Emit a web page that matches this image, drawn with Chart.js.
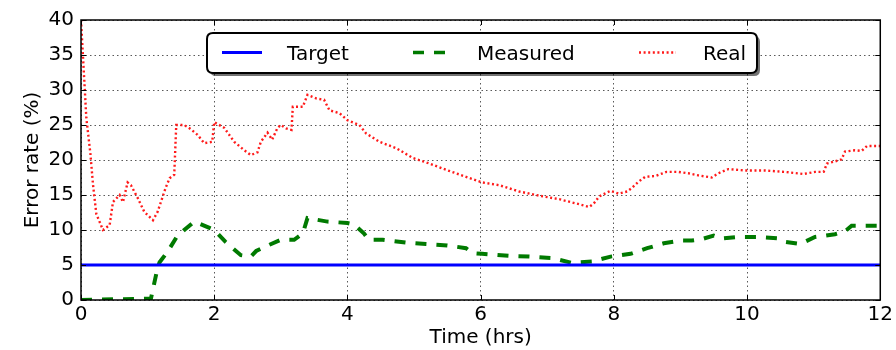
<!DOCTYPE html>
<html>
<head>
<meta charset="utf-8">
<script src="https://cdn.jsdelivr.net/npm/chart.js@4/dist/chart.umd.min.js"></script>
<style>
  html, body { margin: 0; padding: 0; background: #fff; }
  #wrap { width: 896px; height: 350px; }
</style>
</head>
<body>
<div id="wrap"><canvas id="c" width="896" height="350"></canvas></div>
<script>
// Error-rate traces over a 12 hour run
const seriesNames = ['Target', 'Measured', 'Real'];

const targetHours = [0, 12];
const targetRate  = [5, 5];

const measuredHours = [0, 1.05, 1.1, 1.15, 1.18, 1.30, 1.43, 1.55, 1.70, 1.83, 2.0, 2.17, 2.40, 2.55, 2.63, 2.83, 3.0,
  3.2, 3.33, 3.40, 3.70, 4.0, 4.1, 4.25, 4.32, 4.53, 4.88, 5.18, 5.5, 5.78, 5.88, 6.02, 6.43, 6.73, 7.07,
  7.37, 7.67, 7.95, 8.25, 8.5, 8.75, 9.02, 9.17, 9.32, 9.5, 9.62, 9.85, 10.17, 10.47, 10.57, 10.8, 11.02,
  11.32, 11.47, 11.57, 11.85, 12];
const measuredRate = [0, 0.2, 2.4, 4.6, 5.4, 6.9, 8.9, 10, 11.2, 10.7, 10, 8.3, 6.4, 6.2, 7.0, 7.9, 8.6,
  8.6, 9.5, 11.7, 11.2, 11, 10.8, 9.5, 8.6, 8.6, 8.2, 8.0, 7.8, 7.4, 6.7, 6.6, 6.3, 6.2, 6.0,
  5.3, 5.5, 6.2, 6.6, 7.4, 8.1, 8.5, 8.5, 8.7, 9.2, 8.8, 9.0, 9.0, 8.8, 8.3, 8.0, 9.0,
  9.4, 9.8, 10.6, 10.6, 10.6];

const realHours = [0, 0.04, 0.08, 0.14, 0.18, 0.23, 0.33, 0.43, 0.48, 0.58, 0.63, 0.70, 0.75, 0.85, 0.95, 1.08,
  1.15, 1.27, 1.33, 1.40, 1.43, 1.55, 1.62, 1.75, 1.85, 1.97, 2.0, 2.15, 2.30, 2.45, 2.55, 2.65, 2.70, 2.80,
  2.87, 2.95, 3.0, 3.08, 3.16, 3.18, 3.33, 3.40, 3.53, 3.65, 3.73, 3.88, 4.0, 4.18, 4.28, 4.48, 4.73, 4.98,
  5.23, 5.48, 5.78, 6.02, 6.28, 6.58, 6.88, 7.18, 7.43, 7.63, 7.70, 7.78, 7.95, 8.07, 8.20, 8.27, 8.37, 8.47,
  8.62, 8.79, 8.97, 9.12, 9.27, 9.47, 9.57, 9.72, 9.97, 10.27, 10.57, 10.85, 11.02, 11.15, 11.2, 11.32,
  11.42, 11.47, 11.62, 11.72, 11.80, 11.90, 12];
const realRate = [40, 33, 26, 21, 16.5, 12.3, 10, 10.7, 14, 15, 14, 16.8, 16.4, 14.6, 12.6, 11.4,
  12.6, 16, 17.4, 17.9, 25, 25, 24.6, 23.6, 22.4, 22.6, 25.4, 24.6, 22.6, 21.4, 20.7, 21.1, 22.6, 23.9,
  22.9, 24.6, 25, 24.5, 24.3, 27.6, 27.6, 29.3, 28.8, 28.6, 27.1, 26.7, 25.7, 25, 23.8, 22.6, 21.7, 20.3,
  19.5, 18.6, 17.6, 16.8, 16.4, 15.5, 14.9, 14.4, 13.8, 13.3, 13.8, 14.8, 15.6, 15.2, 15.5, 16, 16.9, 17.6,
  17.7, 18.3, 18.3, 18.1, 17.8, 17.5, 18.1, 18.7, 18.5, 18.5, 18.3, 18.0, 18.3, 18.3, 19.5, 19.8,
  20.1, 21.2, 21.4, 21.3, 22, 22, 22];

const xTicks = [0, 2, 4, 6, 8, 10, 12];
const yTicks = [0, 5, 10, 15, 20, 25, 30, 35, 40];

const toPoints = (xs, ys) => xs.map((x, i) => ({ x: x, y: ys[i] }));

const FONT = '"DejaVu Sans", Verdana, sans-serif';
const BLUE = '#0000ff', GREEN = '#007a00', RED = '#ff1a1a';

// Plot frame with inward tick marks
const framePlugin = {
  id: 'frame',
  afterDatasetsDraw(chart) {
    const { ctx, chartArea: a, scales } = chart;
    ctx.save();
    ctx.strokeStyle = '#000';
    ctx.lineWidth = 1.5;
    ctx.setLineDash([]);
    ctx.strokeRect(a.left, a.top, a.right - a.left, a.bottom - a.top);
    ctx.lineWidth = 1;
    const len = 5;
    xTicks.forEach(v => {
      const px = Math.round(scales.x.getPixelForValue(v)) + 0.5;
      ctx.beginPath();
      ctx.moveTo(px, a.bottom); ctx.lineTo(px, a.bottom - len);
      ctx.moveTo(px, a.top); ctx.lineTo(px, a.top + len);
      ctx.stroke();
    });
    yTicks.forEach(v => {
      const py = Math.round(scales.y.getPixelForValue(v)) + 0.5;
      ctx.beginPath();
      ctx.moveTo(a.left, py); ctx.lineTo(a.left + len, py);
      ctx.moveTo(a.right, py); ctx.lineTo(a.right - len, py);
      ctx.stroke();
    });
    ctx.restore();
  }
};

// Boxed legend drawn inside the plot area
const boxLegendPlugin = {
  id: 'boxLegend',
  afterDraw(chart) {
    const ctx = chart.ctx;
    const bx = 207, by = 33, bw = 550, bh = 40, r = 6;
    const rr = (x, y, w, h) => {
      ctx.beginPath();
      ctx.moveTo(x + r, y);
      ctx.lineTo(x + w - r, y); ctx.quadraticCurveTo(x + w, y, x + w, y + r);
      ctx.lineTo(x + w, y + h - r); ctx.quadraticCurveTo(x + w, y + h, x + w - r, y + h);
      ctx.lineTo(x + r, y + h); ctx.quadraticCurveTo(x, y + h, x, y + h - r);
      ctx.lineTo(x, y + r); ctx.quadraticCurveTo(x, y, x + r, y);
      ctx.closePath();
    };
    ctx.save();
    // shadow
    ctx.fillStyle = 'rgba(0,0,0,0.55)';
    rr(bx + 3, by + 3, bw, bh); ctx.fill();
    ctx.fillStyle = '#fff';
    rr(bx, by, bw, bh); ctx.fill();
    ctx.strokeStyle = '#000';
    ctx.lineWidth = 2;
    rr(bx, by, bw, bh); ctx.stroke();

    const cy = 52.5;
    const samples = [
      { x0: 222, x1: 262, color: BLUE, width: 3, dash: [], text: seriesNames[0], tx: 287 },
      { x0: 413, x1: 447, color: GREEN, width: 3.5, dash: [11, 10], text: seriesNames[1], tx: 477 },
      { x0: 639, x1: 676, color: RED, width: 2.4, dash: [2, 2.6], text: seriesNames[2], tx: 703 }
    ];
    samples.forEach(s => {
      ctx.beginPath();
      ctx.strokeStyle = s.color;
      ctx.lineWidth = s.width;
      ctx.setLineDash(s.dash);
      ctx.moveTo(s.x0, cy); ctx.lineTo(s.x1, cy);
      ctx.stroke();
      ctx.setLineDash([]);
      ctx.fillStyle = '#000';
      ctx.font = '20px ' + FONT;
      ctx.textBaseline = 'alphabetic';
      ctx.textAlign = 'left';
      ctx.fillText(s.text, s.tx, cy + 7.5);
    });
    ctx.restore();
  }
};

new Chart(document.getElementById('c'), {
  type: 'line',
  data: {
    datasets: [
      { label: seriesNames[0], data: toPoints(targetHours, targetRate), borderColor: BLUE, borderWidth: 3 },
      { label: seriesNames[1], data: toPoints(measuredHours, measuredRate), borderColor: GREEN, borderWidth: 4, borderDash: [11, 10] },
      { label: seriesNames[2], data: toPoints(realHours, realRate), borderColor: RED, borderWidth: 2.4, borderDash: [2, 2.6] }
    ]
  },
  options: {
    responsive: false,
    animation: false,
    devicePixelRatio: 1,
    layout: { padding: { left: 0, top: 20, right: 14, bottom: 0 } },
    elements: { point: { radius: 0 }, line: { tension: 0, fill: false } },
    plugins: { legend: { display: false }, tooltip: { enabled: false } },
    scales: {
      x: {
        type: 'linear', min: 0, max: 12,
        afterFit(s) { s.height = 50; },
        afterBuildTicks(s) { s.ticks = xTicks.map(v => ({ value: v })); },
        ticks: { color: '#000', font: { family: FONT, size: 20 }, padding: 3, maxRotation: 0 },
        grid: { color: 'rgba(0,0,0,0.65)', lineWidth: 1, drawTicks: false },
        border: { display: false, dash: [1.5, 3] },
        title: { display: true, text: 'Time (hrs)', color: '#000', font: { family: FONT, size: 20 }, padding: { top: 0, bottom: 0 } }
      },
      y: {
        type: 'linear', min: 0, max: 40,
        afterFit(s) { s.width = 81; },
        afterBuildTicks(s) { s.ticks = yTicks.map(v => ({ value: v })); },
        ticks: { color: '#000', font: { family: FONT, size: 20 }, padding: 7 },
        grid: { color: 'rgba(0,0,0,0.65)', lineWidth: 1, drawTicks: false },
        border: { display: false, dash: [1.5, 3] },
        title: { display: true, text: 'Error rate (%)', color: '#000', font: { family: FONT, size: 20 }, padding: { top: 21, bottom: 0 } }
      }
    }
  },
  plugins: [framePlugin, boxLegendPlugin]
});
</script>
</body>
</html>
